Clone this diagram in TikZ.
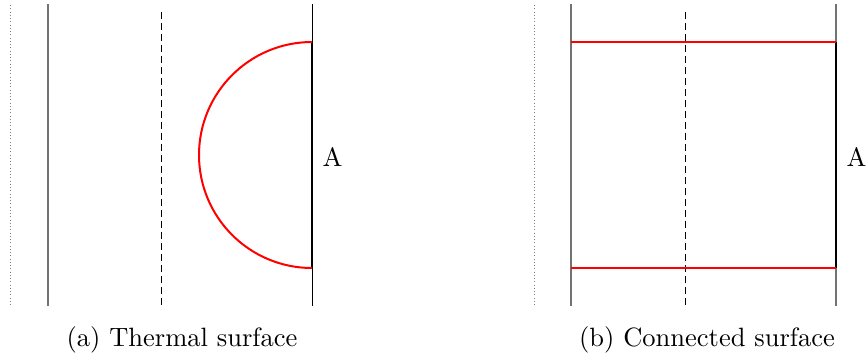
\documentclass[tikz,border=0pt]{standalone}
\begin{document}
\begin{tikzpicture}[x=0.4pt,y=-0.4pt,
  dotline/.style={gray,line width=0.4pt,dash pattern=on 0.4pt off 0.9pt},
  grayline/.style={gray!90!black,line width=0.45pt},
  blackline/.style={black,line width=0.4pt},
  dashline/.style={black,line width=0.4pt,dash pattern=on 2.8pt off 1.6pt},
  redline/.style={red,line width=0.8pt},
  thickline/.style={black,line width=1pt},
  lbl/.style={inner sep=0pt,font=\fontsize{10.6}{12}\selectfont}]
\useasboundingbox (0,0) rectangle (868,356);
% panel (a)
\coordinate (a1t) at (10,5);   \coordinate (a1b) at (10,305);
\coordinate (a2t) at (48,4);   \coordinate (a2b) at (48,306);
\coordinate (a3t) at (161,12); \coordinate (a3b) at (161,306);
\coordinate (a4t) at (312,4);  \coordinate (a4b) at (312,306);
\coordinate (aTop) at (312,42); \coordinate (aBot) at (312,268);
\draw[dotline] (a1t) -- (a1b);
\draw[grayline] (a2t) -- (a2b);
\draw[dashline] (a3t) -- (a3b);
\draw[blackline] (a4t) -- (a4b);
\draw[thickline] (aTop) -- (aBot);
\draw[redline] (aTop) arc[start angle=270,end angle=90,radius=113];
\node[lbl,anchor=west] (la) at (322,157) {A};
\node[lbl] (ca) at (182,340) {(a) Thermal surface};
% panel (b)
\coordinate (b1t) at (534,5);   \coordinate (b1b) at (534,305);
\coordinate (b2t) at (571,4);   \coordinate (b2b) at (571,306);
\coordinate (b3t) at (685,12);  \coordinate (b3b) at (685,306);
\coordinate (b4t) at (836,4);   \coordinate (b4b) at (836,306);
\coordinate (bTL) at (571,42); \coordinate (bTR) at (836,42);
\coordinate (bBL) at (571,268); \coordinate (bBR) at (836,268);
\draw[dotline] (b1t) -- (b1b);
\draw[grayline] (b2t) -- (b2b);
\draw[dashline] (b3t) -- (b3b);
\draw[grayline] (b4t) -- (b4b);
\draw[thickline] (bTR) -- (bBR);
\draw[redline] (bTL) -- (bTR);
\draw[redline] (bBL) -- (bBR);
\node[lbl,anchor=west] (lb) at (846,157) {A};
\node[lbl] (cb) at (707,340) {(b) Connected surface};
\end{tikzpicture}
\end{document}
